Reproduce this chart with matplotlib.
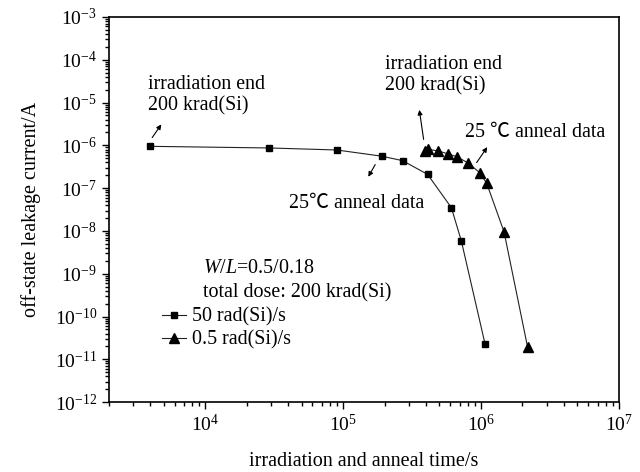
import matplotlib
matplotlib.use("Agg")
import matplotlib.pyplot as plt
from matplotlib.ticker import LogLocator, NullFormatter

plt.rcParams["font.family"] = ["Liberation Serif", "Noto Sans CJK SC"]
plt.rcParams["mathtext.fontset"] = "custom"
plt.rcParams["mathtext.rm"] = "Liberation Serif"
plt.rcParams["mathtext.it"] = "Liberation Serif:italic"

# 50 rad(Si)/s irradiation followed by 25 C anneal
t_fast = [4.0e3, 2.9e4, 9.0e4, 1.9e5, 2.7e5, 4.1e5, 6.1e5, 7.2e5, 1.07e6]
i_fast = [9.5e-7, 8.7e-7, 7.8e-7, 5.6e-7, 4.4e-7, 2.1e-7, 3.5e-8, 5.9e-9, 2.3e-11]

# 0.5 rad(Si)/s irradiation followed by 25 C anneal
t_slow = [3.9e5, 4.1e5, 4.9e5, 5.8e5, 6.7e5, 8.05e5, 9.8e5, 1.1e6, 1.47e6, 2.18e6]
i_slow = [7.4e-7, 8.1e-7, 7.4e-7, 6.3e-7, 5.4e-7, 3.9e-7, 2.3e-7, 1.3e-7, 9.5e-9, 1.9e-11]

labels = ["50 rad(Si)/s", "0.5 rad(Si)/s"]

fig = plt.figure(figsize=(6.4, 4.72), dpi=100)
ax = fig.add_axes([0.170, 0.148, 0.797, 0.816])

ax.plot(t_fast, i_fast, color="#222222", lw=0.8, marker="s", ms=5,
        mfc="black", mec="black", label=labels[0])
ax.plot(t_slow, i_slow, color="#222222", lw=0.8, marker="^", ms=7,
        mfc="black", mec="black", label=labels[1])

ax.set_xscale("log")
ax.set_yscale("log")
ax.set_xlim(2e3, 1e7)
ax.set_ylim(1e-12, 1e-3)
ax.set_xticks([1e4, 1e5, 1e6, 1e7])
ax.set_yticks([10.0 ** k for k in range(-12, -2)])
for axis in (ax.xaxis, ax.yaxis):
    axis.set_minor_locator(LogLocator(base=10, subs=range(2, 10), numticks=100))
    axis.set_minor_formatter(NullFormatter())

ax.tick_params(which="both", direction="out", top=False, right=False,
               labelsize=14, width=1.0)
ax.tick_params(which="major", length=5)
ax.tick_params(which="minor", length=3)
for s in ax.spines.values():
    s.set_linewidth(1.2)

ax.set_xlabel("irradiation and anneal time/s", fontsize=14.5, labelpad=12)
ax.set_ylabel("off-state leakage current/A", fontsize=14.5, labelpad=10)

fs = 14.4
arrow = dict(arrowstyle="-|>", color="black", lw=0.8, mutation_scale=7)

ax.text(0.076, 0.797, "irradiation end\n200 krad(Si)", transform=ax.transAxes,
        fontsize=fs, va="center", ha="left", linespacing=1.2)
ax.annotate("", xy=(0.106, 0.727), xytext=(0.082, 0.681),
            xycoords="axes fraction", arrowprops=arrow)

ax.text(0.353, 0.517, "25\u2103 anneal data", transform=ax.transAxes,
        fontsize=fs, va="center", ha="left")
ax.annotate("", xy=(0.506, 0.579), xytext=(0.525, 0.623),
            xycoords="axes fraction", arrowprops=arrow)

ax.text(0.541, 0.849, "irradiation end\n200 krad(Si)", transform=ax.transAxes,
        fontsize=fs, va="center", ha="left", linespacing=1.2)
ax.annotate("", xy=(0.608, 0.766), xytext=(0.618, 0.675),
            xycoords="axes fraction", arrowprops=arrow)

ax.text(0.698, 0.701, "25 \u2103 anneal data", transform=ax.transAxes,
        fontsize=fs, va="center", ha="left")
ax.annotate("", xy=(0.745, 0.668), xytext=(0.718, 0.616),
            xycoords="axes fraction", arrowprops=arrow)

ax.text(0.184, 0.348, r"$\it{W}$/$\it{L}$=0.5/0.18", transform=ax.transAxes,
        fontsize=fs, va="center", ha="left")
ax.text(0.184, 0.283, "total dose: 200 krad(Si)", transform=ax.transAxes,
        fontsize=fs, va="center", ha="left")

ax.legend(loc="center left", bbox_to_anchor=(0.105, 0.191), frameon=False,
          fontsize=fs, handlelength=1.2, handletextpad=0.3, labelspacing=0.2,
          borderpad=0, borderaxespad=0)

fig.savefig("out.png", dpi=100)
